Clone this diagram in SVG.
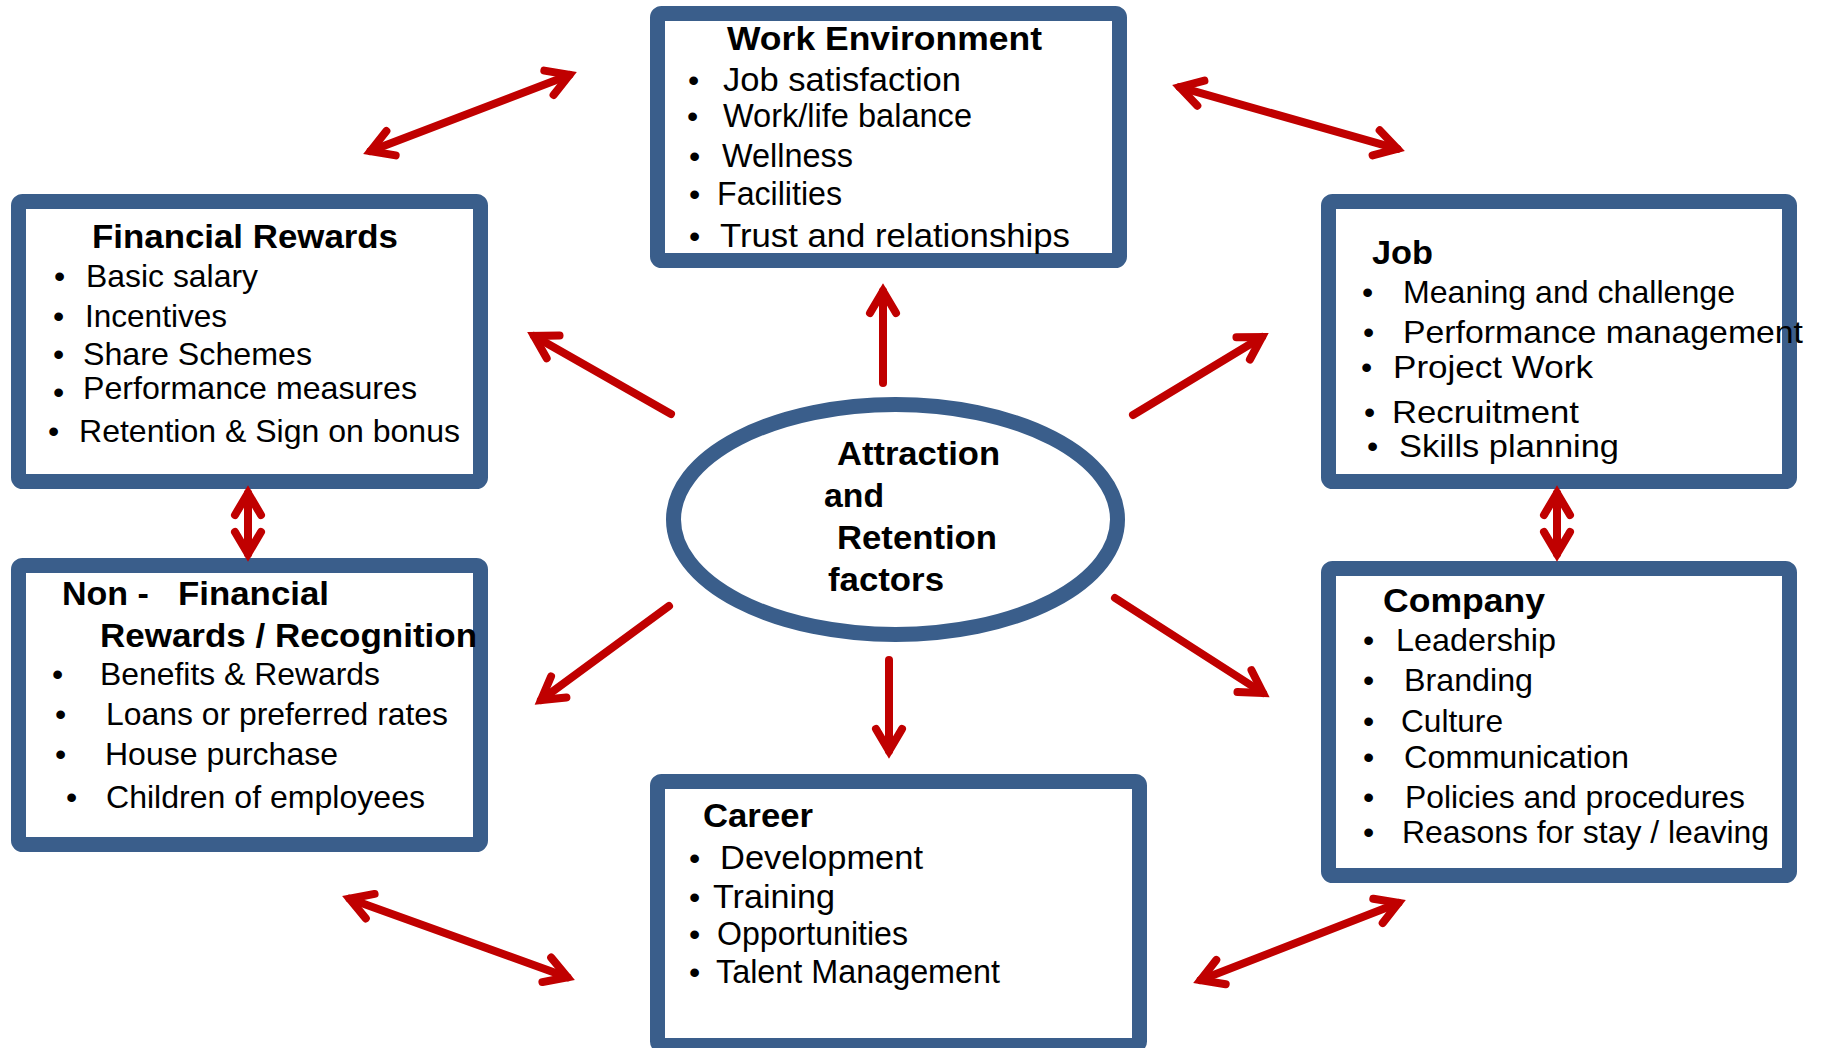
<svg xmlns="http://www.w3.org/2000/svg" width="1822" height="1048" viewBox="0 0 1822 1048">
<style>
.box{fill:#fff;stroke:#3A5E8B;stroke-width:15;}
.t{font-family:"Liberation Sans",Arial,sans-serif;fill:#000;}
.h{font-weight:bold;font-size:34px;}
.i{font-size:32px;}
.i34{font-size:34px;}
.b{font-size:32px;}
.c{fill:none;stroke:#C00000;stroke-width:8;stroke-linecap:round;}
</style>
<defs>
<marker id="ah" markerUnits="userSpaceOnUse" viewBox="-40 -30 60 60" markerWidth="60" markerHeight="60" refX="0" refY="0" orient="auto-start-reverse" overflow="visible">
<path d="M-22,-13 L0,0 L-22,13" fill="none" stroke="#C00000" stroke-width="8" stroke-linecap="round" stroke-linejoin="miter" stroke-miterlimit="10"/>
</marker>
</defs>
<rect width="1822" height="1048" fill="#fff"/>

<g id="work-environment">
<rect class="box" x="657.5" y="13.5" width="462" height="247" rx="4"/>
<text class="t h" x="727" y="50" textLength="315" lengthAdjust="spacingAndGlyphs">Work Environment</text>
<text class="t b" x="688" y="91">•</text><text class="t i34" x="723" y="91" textLength="238" lengthAdjust="spacingAndGlyphs">Job satisfaction</text>
<text class="t b" x="687" y="127">•</text><text class="t i34" x="723" y="127" textLength="249" lengthAdjust="spacingAndGlyphs">Work/life balance</text>
<text class="t b" x="689" y="167">•</text><text class="t i34" x="722" y="167" textLength="131" lengthAdjust="spacingAndGlyphs">Wellness</text>
<text class="t b" x="689" y="205">•</text><text class="t i34" x="717" y="205" textLength="125" lengthAdjust="spacingAndGlyphs">Facilities</text>
<text class="t b" x="689" y="247">•</text><text class="t i34" x="720" y="247" textLength="350" lengthAdjust="spacingAndGlyphs">Trust and relationships</text>
</g>

<g id="financial-rewards">
<rect class="box" x="18.5" y="201.5" width="462" height="280" rx="4"/>
<text class="t h" x="92" y="248" textLength="306" lengthAdjust="spacingAndGlyphs">Financial Rewards</text>
<text class="t b" x="54" y="287">•</text><text class="t i" x="86" y="287" textLength="172" lengthAdjust="spacingAndGlyphs">Basic salary</text>
<text class="t b" x="53" y="327">•</text><text class="t i" x="85" y="327" textLength="142" lengthAdjust="spacingAndGlyphs">Incentives</text>
<text class="t b" x="53" y="365">•</text><text class="t i" x="83" y="365" textLength="229" lengthAdjust="spacingAndGlyphs">Share Schemes</text>
<text class="t b" x="53" y="403">•</text><text class="t i" x="83" y="399" textLength="334" lengthAdjust="spacingAndGlyphs">Performance measures</text>
<text class="t b" x="48" y="442">•</text><text class="t i" x="79" y="442" textLength="381" lengthAdjust="spacingAndGlyphs">Retention &amp; Sign on bonus</text>
</g>

<g id="job">
<rect class="box" x="1328.5" y="201.5" width="461" height="280" rx="4"/>
<text class="t h" x="1372" y="264" textLength="61" lengthAdjust="spacingAndGlyphs">Job</text>
<text class="t b" x="1362" y="303">•</text><text class="t i" x="1403" y="303" textLength="332" lengthAdjust="spacingAndGlyphs">Meaning and challenge</text>
<text class="t b" x="1363" y="343">•</text><text class="t i" x="1403" y="343" textLength="400" lengthAdjust="spacingAndGlyphs">Performance  management</text>
<text class="t b" x="1361" y="378">•</text><text class="t i" x="1393" y="378" textLength="200" lengthAdjust="spacingAndGlyphs">Project Work</text>
<text class="t b" x="1364" y="423">•</text><text class="t i" x="1392" y="423" textLength="187" lengthAdjust="spacingAndGlyphs">Recruitment</text>
<text class="t b" x="1367" y="457">•</text><text class="t i" x="1399" y="457" textLength="220" lengthAdjust="spacingAndGlyphs">Skills planning</text>
</g>

<g id="non-financial-rewards">
<rect class="box" x="18.5" y="565.5" width="462" height="279" rx="4"/>
<text class="t h" y="605"><tspan x="62">Non -</tspan><tspan x="178" textLength="151" lengthAdjust="spacingAndGlyphs">Financial</tspan></text>
<text class="t h" x="100" y="647" textLength="377" lengthAdjust="spacingAndGlyphs">Rewards / Recognition</text>
<text class="t b" x="52" y="685">•</text><text class="t i" x="100" y="685" textLength="280" lengthAdjust="spacingAndGlyphs">Benefits &amp; Rewards</text>
<text class="t b" x="55" y="725">•</text><text class="t i" x="106" y="725" textLength="342" lengthAdjust="spacingAndGlyphs">Loans or preferred rates</text>
<text class="t b" x="55" y="765">•</text><text class="t i" x="105" y="765" textLength="233" lengthAdjust="spacingAndGlyphs">House purchase</text>
<text class="t b" x="66" y="808">•</text><text class="t i" x="106" y="808" textLength="319" lengthAdjust="spacingAndGlyphs">Children of employees</text>
</g>

<g id="company">
<rect class="box" x="1328.5" y="568.5" width="461" height="307" rx="4"/>
<text class="t h" x="1383" y="612" textLength="162" lengthAdjust="spacingAndGlyphs">Company</text>
<text class="t b" x="1363" y="651">•</text><text class="t i" x="1396" y="651" textLength="160" lengthAdjust="spacingAndGlyphs">Leadership</text>
<text class="t b" x="1363" y="691">•</text><text class="t i" x="1404" y="691" textLength="129" lengthAdjust="spacingAndGlyphs">Branding</text>
<text class="t b" x="1363" y="732">•</text><text class="t i" x="1401" y="732" textLength="102" lengthAdjust="spacingAndGlyphs">Culture</text>
<text class="t b" x="1363" y="768">•</text><text class="t i" x="1404" y="768" textLength="225" lengthAdjust="spacingAndGlyphs">Communication</text>
<text class="t b" x="1363" y="808">•</text><text class="t i" x="1405" y="808" textLength="340" lengthAdjust="spacingAndGlyphs">Policies and procedures</text>
<text class="t b" x="1363" y="843">•</text><text class="t i" x="1402" y="843" textLength="367" lengthAdjust="spacingAndGlyphs">Reasons for stay / leaving</text>
</g>

<g id="career">
<rect class="box" x="657.5" y="781.5" width="482" height="264" rx="4"/>
<text class="t h" x="703" y="827" textLength="110" lengthAdjust="spacingAndGlyphs">Career</text>
<text class="t b" x="689" y="869">•</text><text class="t i34" x="720" y="869" textLength="203" lengthAdjust="spacingAndGlyphs">Development</text>
<text class="t b" x="689" y="908">•</text><text class="t i34" x="713" y="908" textLength="122" lengthAdjust="spacingAndGlyphs">Training</text>
<text class="t b" x="689" y="945">•</text><text class="t i34" x="717" y="945" textLength="191" lengthAdjust="spacingAndGlyphs">Opportunities</text>
<text class="t b" x="689" y="983">•</text><text class="t i34" x="716" y="983" textLength="284" lengthAdjust="spacingAndGlyphs">Talent Management</text>
</g>

<g id="attraction-retention">
<ellipse class="box" cx="895.5" cy="519.5" rx="222" ry="115"/>
<text class="t h" x="837" y="465" textLength="163" lengthAdjust="spacingAndGlyphs">Attraction</text>
<text class="t h" x="824" y="507" textLength="60" lengthAdjust="spacingAndGlyphs">and</text>
<text class="t h" x="837" y="549" textLength="160" lengthAdjust="spacingAndGlyphs">Retention</text>
<text class="t h" x="828" y="591" textLength="116" lengthAdjust="spacingAndGlyphs">factors</text>
</g>

<g id="connectors">
<line class="c" x1="883" y1="383" x2="883" y2="291" marker-end="url(#ah)"/>
<line class="c" x1="671" y1="414" x2="534" y2="336" marker-end="url(#ah)"/>
<line class="c" x1="1133" y1="415" x2="1262" y2="337" marker-end="url(#ah)"/>
<line class="c" x1="669" y1="606" x2="541" y2="700" marker-end="url(#ah)"/>
<line class="c" x1="1115" y1="598" x2="1263" y2="693" marker-end="url(#ah)"/>
<line class="c" x1="889" y1="660" x2="889" y2="751" marker-end="url(#ah)"/>
<line class="c" x1="248" y1="493" x2="248" y2="554" marker-start="url(#ah)" marker-end="url(#ah)"/>
<line class="c" x1="1557" y1="493" x2="1557" y2="554" marker-start="url(#ah)" marker-end="url(#ah)"/>
<line class="c" x1="370.5" y1="151.1" x2="569.5" y2="74.9" marker-start="url(#ah)" marker-end="url(#ah)"/>
<line class="c" x1="1179.7" y1="87.2" x2="1397.3" y2="148.8" marker-start="url(#ah)" marker-end="url(#ah)"/>
<line class="c" x1="349.5" y1="898.7" x2="567.5" y2="977.3" marker-start="url(#ah)" marker-end="url(#ah)"/>
<line class="c" x1="1200.5" y1="980.1" x2="1398.5" y2="902.9" marker-start="url(#ah)" marker-end="url(#ah)"/>
</g>
</svg>
